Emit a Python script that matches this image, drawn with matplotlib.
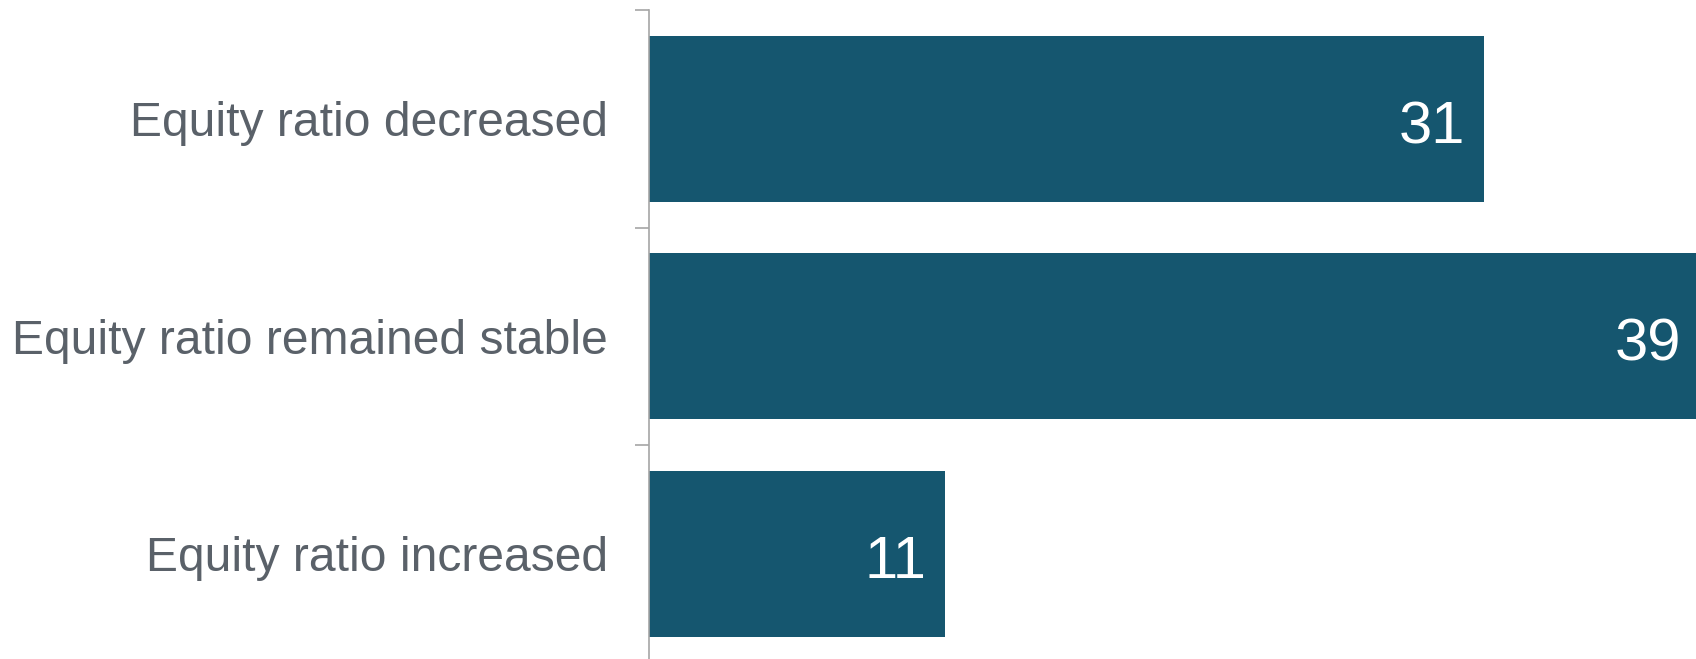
import matplotlib
matplotlib.use("Agg")
import matplotlib.pyplot as plt
from matplotlib.ticker import FixedLocator, FixedFormatter
from matplotlib.transforms import offset_copy

categories = ["Equity ratio decreased", "Equity ratio remained stable", "Equity ratio increased"]
values = [31, 39, 11]

BAR = "#15566F"
TXT = "#5A6169"
AX = "#A6A6A6"

plt.rcParams['font.family'] = ['Liberation Sans', 'DejaVu Sans']

fig = plt.figure(figsize=(16.96, 6.59), dpi=100)
ax = fig.add_axes([649/1696, (659-662.5)/659, 1 - 649/1696, 652.5/659])

pos = list(range(len(categories)))
ax.barh(pos, values, height=0.765, color=BAR, zorder=2)
ax.set_ylim(len(categories) - 0.5, -0.5)
ax.set_xlim(0, 38.85)

for s in ["top", "right", "bottom"]:
    ax.spines[s].set_visible(False)
ax.spines["left"].set_color(AX)
ax.spines["left"].set_linewidth(1.2)
ax.spines["left"].set_zorder(3)

ax.set_xticks([])
ax.yaxis.set_major_locator(FixedLocator([p - 0.5 for p in pos] + [pos[-1] + 0.5]))
ax.yaxis.set_major_formatter(FixedFormatter([""] * (len(pos) + 1)))
ax.yaxis.set_minor_locator(FixedLocator(pos))
ax.yaxis.set_minor_formatter(FixedFormatter(categories))
ax.tick_params(axis="y", which="major", length=10, width=1.2, color=AX, direction="out")
ax.tick_params(axis="y", which="minor", length=0, pad=29.5, labelsize=34.6, labelcolor=TXT)

for p, v in zip(pos, values):
    tr = offset_copy(ax.transData, fig=fig, x=-19, y=-3, units="dots")
    ax.text(v, p, str(v), transform=tr, ha="right", va="center_baseline",
            fontsize=43, color="white", zorder=4, clip_on=False)

fig.savefig("out.png", dpi=100)
